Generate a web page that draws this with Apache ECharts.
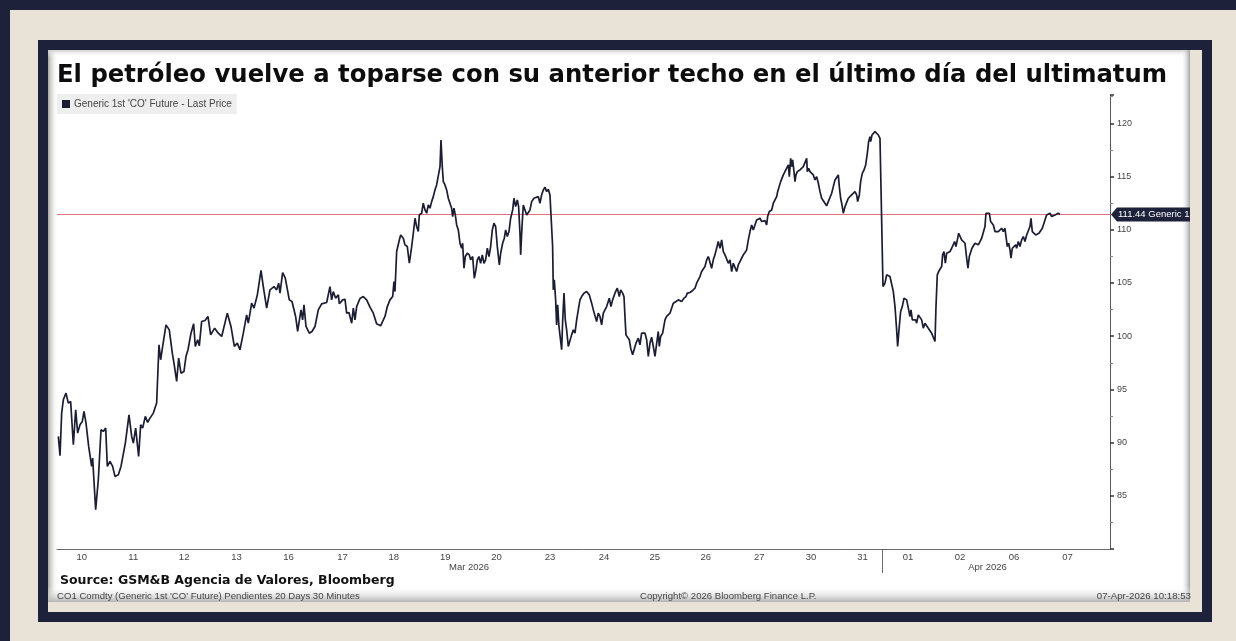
<!DOCTYPE html>
<html><head><meta charset="utf-8">
<script src="https://cdn.jsdelivr.net/npm/echarts@6/dist/echarts.min.js"></script>
<style>html,body{margin:0;padding:0;background:#e9e2d6;}#c{width:1236px;height:641px;}</style>
</head><body><div id="c"></div>
<script>
const titleText = 'El petróleo vuelve a toparse con su anterior techo en el último día del ultimatum';
const seriesName = "Generic 1st 'CO' Future - Last Price";
const sourceText = 'Source: GSM&B Agencia de Valores, Bloomberg';
const footerLeft = "CO1 Comdty (Generic 1st 'CO' Future) Pendientes 20 Days 30 Minutes";
const footerMid = 'Copyright\u00A9 2026 Bloomberg Finance L.P.';
const footerRight = '07-Apr-2026 10:18:53';
const tagText = '111.44 Generic 1';

// x axis: trading-session position (one unit = one trading day)
const dayLabels = ['10','11','12','13','16','17','18','19','20','23','24','25','26','27','30','31','01','02','06','07'];
const dayLabelPos = [0.476,1.47,2.45,3.46,4.46,5.50,6.49,7.48,8.47,9.50,10.54,11.52,12.50,13.53,14.53,15.52,16.40,17.40,18.44,19.47];
const monthLabels = ['Mar 2026','Apr 2026'];
const monthLabelPos = [7.94,17.93];
const monthBreakPos = [15.91];
const sessionEnd = 20.29;
const yMin = 80, yMax = 122.66, yStep = 5;
const lastPrice = 111.44;

// [session position, price]
const pricePath = [
[0.026,90.58],[0.058,88.76],[0.090,92.77],[0.122,94.02],[0.173,94.65],[0.218,93.71],[0.263,93.86],[0.315,89.80],[0.360,93.08],[0.398,90.89],[0.443,91.67],[0.488,91.99],[0.520,92.93],[0.559,91.83],[0.610,89.64],[0.668,87.76],[0.687,88.54],[0.745,83.69],[0.796,86.51],[0.848,91.20],[0.893,91.05],[0.938,91.36],[0.970,87.76],[1.021,88.23],[1.072,87.76],[1.117,86.82],[1.182,86.98],[1.233,87.76],[1.265,87.60],[1.317,89.95],[1.387,92.61],[1.439,90.58],[1.471,89.95],[1.516,91.36],[1.548,91.20],[1.573,88.70],[1.612,91.67],[1.650,91.36],[1.702,92.46],[1.747,91.89],[1.792,92.30],[1.856,92.77],[1.920,93.71],[1.965,99.19],[1.997,97.78],[2.036,99.03],[2.100,101.06],[2.164,100.59],[2.222,98.40],[2.254,97.46],[2.306,95.74],[2.344,97.93],[2.389,96.52],[2.447,96.68],[2.485,98.09],[2.524,98.72],[2.582,100.28],[2.633,101.16],[2.665,99.03],[2.710,99.66],[2.742,99.09],[2.787,101.38],[2.852,101.47],[2.909,101.85],[2.961,100.12],[3.038,100.75],[3.108,100.28],[3.173,99.97],[3.282,102.16],[3.352,100.91],[3.417,99.03],[3.474,99.34],[3.526,98.72],[3.590,100.28],[3.654,102.00],[3.686,101.22],[3.751,103.10],[3.796,102.63],[3.860,103.88],[3.898,104.04],[3.931,106.17],[3.975,104.66],[4.040,102.63],[4.104,104.35],[4.181,104.66],[4.232,104.35],[4.271,104.98],[4.297,104.04],[4.348,105.98],[4.399,105.45],[4.476,103.41],[4.528,103.26],[4.598,101.85],[4.637,100.44],[4.701,102.47],[4.733,101.53],[4.759,102.94],[4.798,100.91],[4.862,100.28],[4.913,100.44],[4.971,100.91],[5.035,102.47],[5.099,103.04],[5.196,103.16],[5.234,103.04],[5.260,104.66],[5.292,103.41],[5.324,104.19],[5.369,103.57],[5.421,103.88],[5.440,103.04],[5.504,103.41],[5.549,103.47],[5.581,102.16],[5.626,102.22],[5.678,101.22],[5.710,102.63],[5.742,101.53],[5.774,102.78],[5.838,103.54],[5.902,103.72],[5.966,103.41],[6.031,102.72],[6.095,102.16],[6.159,101.16],[6.236,100.97],[6.275,101.38],
[6.320,101.85],[6.365,102.78],[6.416,103.41],[6.468,103.72],[6.493,105.13],[6.512,104.19],[6.545,107.95],[6.577,108.11],[6.596,109.04],[6.622,109.51],[6.673,109.20],[6.705,108.58],[6.750,108.42],[6.789,106.85],[6.834,108.42],[6.866,109.67],[6.898,111.08],[6.930,110.30],[6.962,109.83],[6.981,111.39],[7.026,111.55],[7.058,112.49],[7.091,111.86],[7.123,111.55],[7.155,112.33],[7.187,112.02],[7.219,112.64],[7.251,113.11],[7.283,113.74],[7.315,114.21],[7.347,114.37],[7.380,115.93],[7.399,118.43],[7.424,115.93],[7.444,114.52],[7.476,114.21],[7.508,113.74],[7.540,112.96],[7.572,112.49],[7.604,112.02],[7.624,111.24],[7.649,112.02],[7.675,111.39],[7.701,110.45],[7.733,109.98],[7.765,108.73],[7.797,108.26],[7.816,108.73],[7.842,106.38],[7.868,107.48],[7.906,107.79],[7.945,107.64],[7.970,107.17],[8.009,107.48],[8.041,105.44],[8.073,106.23],[8.099,107.17],[8.131,107.48],[8.163,106.85],[8.195,107.64],[8.227,106.85],[8.259,107.17],[8.292,108.26],[8.324,107.48],[8.356,108.42],[8.388,109.98],[8.420,110.61],[8.452,110.30],[8.484,108.42],[8.523,106.70],[8.549,107.79],[8.587,108.73],[8.619,109.20],[8.645,109.98],[8.677,109.36],[8.709,109.83],[8.741,111.08],[8.780,111.86],[8.805,112.96],[8.838,112.17],[8.870,112.80],[8.895,112.17],[8.921,109.67],[8.934,107.64],[8.960,110.30],[8.985,112.33],[9.017,112.17],[9.050,111.39],[9.082,111.55],[9.114,111.86],[9.146,112.64],[9.191,112.96],[9.229,112.86],[9.274,113.11],[9.306,112.49],[9.338,113.27],[9.370,113.74],[9.403,113.99],[9.435,113.58],[9.467,113.80],[9.499,113.27],[9.531,113.11],[9.550,108.42],[9.563,104.35],[9.582,105.29],[9.608,103.41],[9.627,101.06],[9.647,102.94],[9.672,100.91],[9.698,101.06],[9.724,98.72],[9.743,101.38],[9.769,104.04],[9.794,101.53],[9.820,100.59],[9.852,99.03],[9.884,98.87],[9.916,100.12],[9.949,100.59],[9.981,100.28],[10.013,101.53],[10.045,102.47],[10.077,103.41],[10.109,103.72],[10.154,104.04],[10.205,104.19],[10.257,103.88],[10.302,103.10],[10.334,102.47],[10.366,102.32],[10.398,101.38],[10.430,102.16],[10.462,101.85],[10.494,101.06],[10.527,102.16],[10.559,102.00],[10.591,102.78],[10.642,103.57],[10.674,102.78],[10.706,103.41],[10.751,104.04],[10.796,104.51],[10.835,103.72],[10.861,104.35],[10.899,104.04],[10.925,103.72],[10.944,101.85],[10.963,100.12],[10.989,99.97],[11.028,99.66],[11.054,98.87],[11.092,98.25],[11.118,98.09],[11.156,99.34],[11.201,99.81],[11.233,99.19],[11.265,100.28],[11.297,100.44],[11.330,100.28],[11.362,99.66],[11.394,98.09],[11.426,99.34],[11.458,99.90],[11.490,99.03],[11.522,98.09],[11.554,98.25],[11.586,100.44],[11.606,99.03],[11.631,99.97],[11.670,100.28],[11.715,101.53],[11.747,101.85],[11.779,101.69],[11.811,102.16],[11.843,102.63],[11.875,103.10],[11.927,103.26],[11.972,103.41],[12.036,103.26],[12.081,103.57],[12.120,103.72],[12.145,104.04],[12.197,104.10],[12.248,104.29],[12.293,104.51],[12.325,104.98],[12.357,105.13],[12.389,105.60],[12.421,106.07],[12.454,106.23],[12.486,106.54],[12.518,107.17],[12.550,107.48],[12.582,107.64],[12.614,106.38],[12.646,107.17],[12.678,107.64],[12.710,108.26],[12.742,108.89],[12.775,108.26],
[12.807,109.04],[12.839,107.95],[12.871,107.64],[12.903,107.48],[12.936,106.85],[12.968,107.17],[13.000,106.07],[13.032,106.85],[13.064,106.70],[13.096,106.07],[13.128,106.70],[13.160,107.01],[13.192,107.32],[13.225,107.64],[13.257,107.86],[13.289,108.11],[13.321,109.04],[13.353,109.83],[13.385,110.45],[13.417,109.98],[13.449,110.45],[13.481,110.92],[13.514,110.77],[13.546,111.08],[13.578,110.77],[13.610,110.92],[13.642,110.86],[13.674,110.45],[13.693,111.24],[13.726,111.71],[13.771,111.86],[13.803,112.49],[13.835,112.80],[13.867,113.11],[13.886,113.58],[13.918,113.74],[13.944,114.52],[13.970,114.68],[13.995,115.15],[14.027,115.46],[14.060,115.62],[14.092,116.09],[14.111,114.99],[14.137,116.71],[14.156,115.93],[14.175,116.56],[14.201,115.46],[14.220,114.52],[14.239,115.15],[14.265,115.46],[14.291,115.46],[14.316,115.62],[14.348,115.46],[14.381,115.93],[14.413,116.09],[14.445,116.71],[14.458,115.46],[14.483,115.77],[14.509,115.46],[14.541,115.30],[14.573,115.15],[14.605,114.68],[14.638,114.99],[14.670,114.37],[14.702,113.58],[14.734,112.96],[14.766,112.80],[14.798,112.49],[14.830,112.24],[14.862,112.64],[14.894,112.80],[14.927,113.43],[14.959,114.05],[14.991,114.68],[15.023,114.83],[15.055,115.15],[15.074,114.05],[15.100,112.96],[15.126,112.33],[15.151,111.55],[15.184,112.17],[15.216,112.02],[15.248,112.96],[15.280,113.11],[15.312,113.27],[15.344,113.11],[15.376,113.58],[15.408,113.27],[15.428,112.64],[15.460,113.27],[15.485,114.52],[15.517,115.30],[15.550,115.62],[15.582,116.09],[15.614,117.18],[15.639,118.28],[15.665,118.75],[15.678,118.28],[15.704,118.90],[15.729,119.06],[15.761,119.22],[15.794,119.12],[15.826,118.90],[15.858,118.59],[15.890,118.43],[15.916,104.66],[15.935,104.51],[15.954,104.98],[15.986,105.76],[16.018,105.60],[16.050,105.60],[16.082,105.44],[16.115,104.19],[16.147,102.78],[16.179,100.59],[16.198,99.03],[16.224,100.59],[16.256,102.32],[16.288,102.78],[16.320,103.57],[16.346,103.72],[16.372,103.41],[16.404,102.63],[16.436,101.85],[16.455,102.47],[16.481,101.53],[16.513,101.38],[16.545,101.53],[16.564,101.22],[16.596,102.00],[16.628,101.85],[16.661,101.53],[16.693,100.75],[16.725,101.22],[16.757,101.06],[16.789,100.75],[16.821,100.59],[16.853,100.28],[16.885,100.28],[16.918,99.50],[16.937,102.78],[16.962,105.76],[16.988,106.07],[17.014,106.23],[17.046,106.54],[17.065,107.64],[17.091,107.95],[17.117,106.85],[17.142,107.79],[17.174,107.79],[17.207,107.95],[17.239,108.26],[17.271,108.42],[17.296,108.89],[17.322,108.42],[17.348,109.04],[17.374,109.67],[17.399,109.51],[17.431,109.04],[17.464,109.20],[17.496,108.73],[17.528,107.32],[17.553,106.38],[17.579,107.48],[17.605,107.64],[17.630,108.26],[17.656,108.11],[17.688,108.73],[17.720,108.89],[17.753,108.58],[17.785,108.89],[17.817,109.20],[17.849,109.36],[17.881,110.30],[17.900,111.55],[17.932,111.39],[17.965,111.55],[17.990,110.77],[18.016,110.61],[18.042,110.45],[18.074,109.83],[18.106,109.98],[18.138,109.83],[18.170,109.98],[18.202,110.14],[18.234,109.83],[18.266,110.14],[18.286,109.36],[18.311,108.42],[18.337,108.73],[18.363,108.11],[18.382,107.32],[18.408,108.26],[18.440,108.42],[18.472,108.58],[18.491,108.26],[18.523,108.89],[18.555,108.42],[18.587,109.04],[18.620,109.36],[18.652,108.89],[18.684,109.51],[18.716,109.67],[18.748,110.30],[18.767,111.08],[18.793,109.83],[18.825,109.83],[18.857,109.51],[18.889,109.67],[18.921,109.67],[18.953,109.83],[18.986,110.14],[19.018,110.30],[19.037,110.92],[19.069,111.39],[19.101,111.24],[19.133,111.55],[19.165,111.24],[19.197,111.30],[19.230,111.39],[19.262,111.55],[19.294,111.55],[19.326,111.44]
];

const NAVY = '#1d2139', BEIGE = '#e9e2d6', LINE = '#1b1d33';
const SMALL = 'Liberation Sans';

const chart = echarts.init(document.getElementById('c'), null, {renderer: 'canvas', width: 1236, height: 641});

function labelFor(list, labels) {
  return function (v) {
    for (let i = 0; i < list.length; i++) if (Math.abs(list[i] - v) < 1e-6) return labels[i];
    return '';
  };
}

function background() {
  const lin = (x, y, x2, y2, c0, c1) => ({type: 'linear', x: x, y: y, x2: x2, y2: y2, colorStops: [{offset: 0, color: c0}, {offset: 1, color: c1}]});
  return [
    {type: 'rect', z: -20, shape: {x: 0, y: 0, width: 1236, height: 641}, style: {fill: BEIGE}},
    {type: 'rect', z: -19, shape: {x: 0, y: 0, width: 1236, height: 10}, style: {fill: NAVY}},
    {type: 'rect', z: -19, shape: {x: 0, y: 0, width: 10, height: 641}, style: {fill: NAVY}},
    {type: 'rect', z: -18, shape: {x: 38, y: 40, width: 1174, height: 582}, style: {fill: NAVY}},
    {type: 'rect', z: -17, shape: {x: 48, y: 50, width: 1154, height: 562}, style: {fill: BEIGE}},
    {type: 'rect', z: -16, shape: {x: 48, y: 50, width: 1142, height: 552}, style: {fill: '#ffffff'}},
    {type: 'rect', z: -15, shape: {x: 48, y: 50, width: 10, height: 552}, style: {fill: lin(0, 0, 1, 0, '#a9a6a1', 'rgba(255,255,255,0)')}},
    {type: 'rect', z: -15, shape: {x: 48, y: 50, width: 1142, height: 7}, style: {fill: lin(0, 0, 0, 1, '#cfcfcf', 'rgba(255,255,255,0)')}},
    {type: 'rect', z: -15, shape: {x: 1181, y: 50, width: 9, height: 552}, style: {fill: lin(0, 0, 1, 0, 'rgba(255,255,255,0)', '#a3a3a3')}},
    {type: 'rect', z: -15, shape: {x: 48, y: 586, width: 1142, height: 16}, style: {fill: lin(0, 0, 0, 1, 'rgba(255,255,255,0)', '#b3b3b3')}},
    {type: 'text', z: 10, style: {x: 60, y: 581, text: sourceText, fill: '#111', font: 'bold 12.5px "DejaVu Sans"', verticalAlign: 'middle'}},
    {type: 'text', z: 10, style: {x: 57, y: 596, text: footerLeft, fill: '#444', font: '9.6px "' + SMALL + '"', verticalAlign: 'middle'}},
    {type: 'text', z: 10, style: {x: 640, y: 596, text: footerMid, fill: '#444', font: '9.6px "' + SMALL + '"', verticalAlign: 'middle'}},
    {type: 'text', z: 10, style: {x: 1191, y: 596, text: footerRight, fill: '#444', font: '9.7px "' + SMALL + '"', verticalAlign: 'middle', align: 'right'}}
  ];
}

chart.setOption({
  animation: false,
  title: {text: titleText, left: 57, top: 64, padding: 0,
    textStyle: {fontFamily: 'DejaVu Sans', fontWeight: 'bold', fontSize: 24.3, color: '#0d0d0d'}},
  legend: {left: 57, top: 94, padding: [5, 5, 5, 5], backgroundColor: '#eeeeee', itemWidth: 8, itemHeight: 8, itemGap: 5,
    icon: 'rect', textStyle: {fontFamily: SMALL, fontSize: 10, color: '#444', padding: [0, 0, 0, -1]}, data: [seriesName]},
  grid: {left: 57, right: 126, top: 95, bottom: 92, containLabel: false},
  xAxis: [
    {type: 'value', min: 0, max: sessionEnd, position: 'bottom',
      axisLine: {show: true, onZero: false, lineStyle: {color: '#6b6b6b', width: 1}},
      axisTick: {show: true, customValues: monthBreakPos, length: 24, lineStyle: {color: '#6b6b6b'}},
      axisLabel: {customValues: dayLabelPos, formatter: labelFor(dayLabelPos, dayLabels), fontFamily: SMALL, fontSize: 9.5, color: '#444', margin: 3},
      splitLine: {show: false}},
    {type: 'value', min: 0, max: sessionEnd, position: 'bottom',
      axisLine: {show: false, onZero: false}, axisTick: {show: false},
      axisLabel: {customValues: monthLabelPos, formatter: labelFor(monthLabelPos, monthLabels), fontFamily: SMALL, fontSize: 9.5, color: '#444', margin: 13},
      splitLine: {show: false}}
  ],
  yAxis: {type: 'value', position: 'right', min: yMin, max: yMax, interval: yStep,
    axisLine: {show: true, onZero: false, lineStyle: {color: '#5a5a5a', width: 1}},
    axisTick: {show: true, length: 4, lineStyle: {color: '#333', width: 1.5}},
    minorTick: {show: true, splitNumber: 2, length: 3, lineStyle: {color: '#888'}},
    axisLabel: {formatter: v => (v === yMin || v % yStep !== 0) ? '' : String(v), fontFamily: SMALL, fontSize: 9, color: '#444', margin: 7},
    splitLine: {show: false}},
  series: [{
    name: seriesName, type: 'line', showSymbol: false, symbol: 'none', color: LINE,
    lineStyle: {color: LINE, width: 1.7}, data: pricePath, z: 3,
    markLine: {silent: true, symbol: 'none', animation: false, label: {show: false}, z: 2,
      lineStyle: {color: '#e8707f', width: 1.2, type: 'solid'}, data: [{yAxis: lastPrice}]}
  }],
  graphic: background()
});

const ty = chart.convertToPixel({yAxisIndex: 0}, lastPrice);
const tx = chart.convertToPixel({xAxisIndex: 0}, sessionEnd);
chart.setOption({graphic: background().concat([
  {type: 'polygon', z: 20, shape: {points: [[tx + 1, ty], [tx + 7, ty - 7], [1190, ty - 7], [1190, ty + 7], [tx + 7, ty + 7]]}, style: {fill: NAVY}},
  {type: 'text', z: 21, style: {x: tx + 8, y: ty, text: tagText, fill: '#ffffff', font: '9.5px "' + SMALL + '"', verticalAlign: 'middle'}}
])});
</script></body></html>
